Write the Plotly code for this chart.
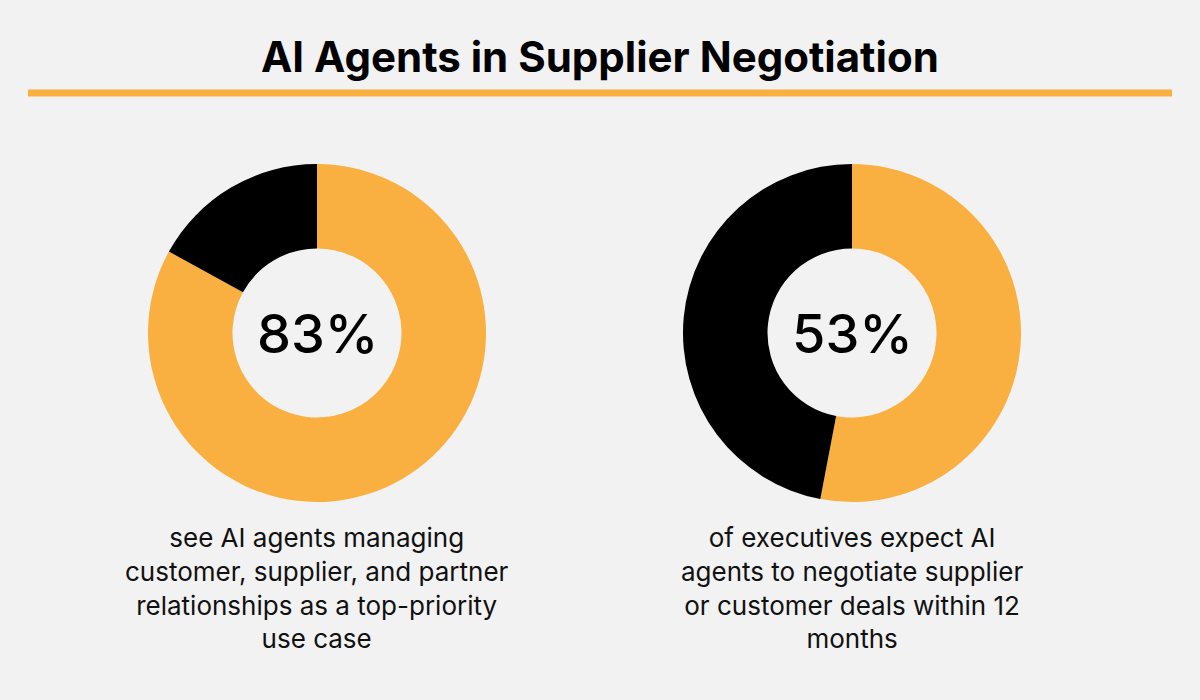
import plotly.graph_objects as go

# data
segments = ["Yes", "No"]
left_values = [83, 17]
right_values = [53, 47]
left_label = "83%"
right_label = "53%"
left_caption = "see AI agents managing<br>customer, supplier, and partner<br>relationships as a top-priority<br>use case"
right_caption = "of executives expect AI<br>agents to negotiate supplier<br>or customer deals within 12<br>months"
title = "AI Agents in Supplier Negotiation"

ORANGE = "#F9B040"
BG = "#F2F2F2"
FONT = "Inter"

W, H = 1200, 700
R = 169
CY = 333


def dom(cx):
    return dict(x=[(cx - R) / W, (cx + R) / W], y=[1 - (CY + R) / H, 1 - (CY - R) / H])


fig = go.Figure()
for vals, cx in [(left_values, 317), (right_values, 852)]:
    fig.add_trace(go.Pie(
        labels=segments, values=vals, hole=0.5, sort=False,
        direction="clockwise", rotation=0, textinfo="none",
        marker=dict(colors=[ORANGE, "#000000"], line=dict(width=0)),
        domain=dom(cx), hoverinfo="label+percent",
    ))

# title + rule
fig.add_annotation(text="<b>" + title + "</b>", x=0.5, y=1 - 57 / H, xref="paper", yref="paper",
                   xanchor="center", yanchor="middle", showarrow=False,
                   font=dict(family=FONT, size=42, color="#000"))
fig.add_shape(type="line", xref="paper", yref="paper", x0=28 / W, x1=1172 / W,
              y0=1 - 93 / H, y1=1 - 93 / H, line=dict(color=ORANGE, width=7))

# centre numbers
for lab, cx in [(left_label, 317), (right_label, 852)]:
    fig.add_annotation(text=lab, x=cx / W, y=1 - CY / H, xref="paper", yref="paper",
                       xanchor="center", yanchor="middle", showarrow=False,
                       font=dict(family=FONT, size=54, color="#000", weight=500))

# captions
for cap, cx in [(left_caption, 317), (right_caption, 852)]:
    fig.add_annotation(text=cap, x=cx / W, y=1 - 588 / H, xref="paper", yref="paper",
                       xanchor="center", yanchor="middle", showarrow=False, align="center",
                       font=dict(family=FONT, size=26, color="#111"))

fig.update_layout(width=W, height=H, margin=dict(l=0, r=0, t=0, b=0),
                  paper_bgcolor=BG, plot_bgcolor=BG, showlegend=False)

fig.write_html("out.html", config={"displayModeBar": False},
               post_script="document.body.style.margin='0';")
